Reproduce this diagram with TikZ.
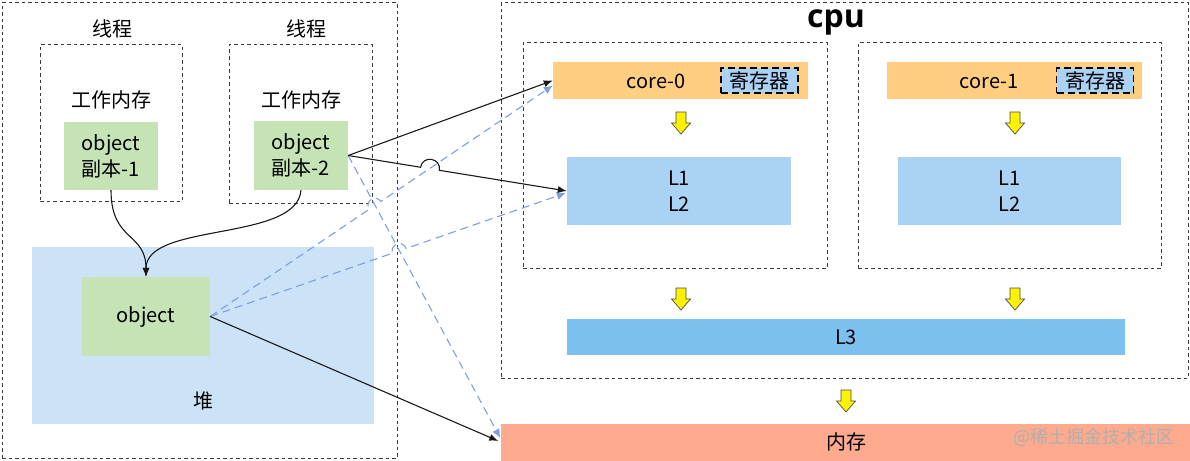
\documentclass[tikz,border=0pt]{standalone}
\usepackage{fontspec}
\setmainfont{Noto Sans CJK SC}
\newfontfamily\cpufont{Open Sans}
\usetikzlibrary{arrows.meta,calc}
\definecolor{gfill}{RGB}{197,227,181}
\definecolor{heapfill}{RGB}{204,226,247}
\definecolor{corefill}{RGB}{255,206,128}
\definecolor{lfill}{RGB}{170,210,245}
\definecolor{l3fill}{RGB}{123,192,238}
\definecolor{memfill}{RGB}{253,170,142}
\definecolor{blueline}{RGB}{126,160,222}
\definecolor{dashgray}{RGB}{60,60,60}
\definecolor{wmgray}{RGB}{175,175,175}
\tikzset{
  yarrow/.pic={\draw[fill=yellow, draw=black!70, line width=0.7pt, line join=miter]
    (-5,0) -- (5,0) -- (5,11) -- (9.5,11) -- (0,22) -- (-9.5,11) -- (-5,11) -- cycle;},
}
\begin{document}
\begin{tikzpicture}[x=1pt,y=-1pt,
  every node/.style={font=\fontsize{20}{26}\selectfont, inner sep=0pt, align=center},
  dbox/.style={draw=dashgray, dash pattern=on 3.5pt off 3pt, line width=1pt},
  blk/.style={draw=black!90, line width=1.1pt, -{Latex[length=9pt,width=7pt]}},
  blu/.style={draw=blueline, line width=1.1pt, dash pattern=on 8pt off 5pt, -{Latex[length=9pt,width=8pt]}},
  reg/.style={fill=lfill, draw=black, line width=1.4pt, dash pattern=on 7pt off 4pt, minimum width=77pt, minimum height=25pt},
]
\useasboundingbox (0,0) rectangle (1190,460);

% ---------- left: threads and heap ----------
\node[dbox, minimum width=395pt, minimum height=455pt] (left) at (199.5,230.5) {};
\node[dbox, minimum width=142pt, minimum height=156pt] (t1box) at (111,123) {};
\node[dbox, minimum width=143pt, minimum height=158pt] (t2box) at (300.5,124) {};
\node (t1lab) at (112,29) {线程};
\node (t2lab) at (306,29) {线程};
\node (w1lab) at (111,100) {工作内存};
\node (w2lab) at (301,100) {工作内存};
\node[fill=gfill, minimum width=94pt, minimum height=68pt] (c1) at (111,156) {object\\副本-1};
\node[fill=gfill, minimum width=94pt, minimum height=69pt] (c2) at (301,155.5) {object\\副本-2};
\node[fill=heapfill, minimum width=342pt, minimum height=177pt] (heap) at (203,335.5) {};
\node (heaplab) at (203,401) {堆};
\node[fill=gfill, minimum width=128pt, minimum height=79pt] (obj) at (146,316.5) {object};

% ---------- right: cpu ----------
\node[dbox, minimum width=687pt, minimum height=375pt] (cpu) at (844.5,190.5) {};
\node (cpulab) at (836,22) {\fontsize{32}{34}\selectfont\cpufont\bfseries cpu};
\node[dbox, minimum width=304pt, minimum height=225pt] (k0box) at (675,155.5) {};
\node[dbox, minimum width=303pt, minimum height=225pt] (k1box) at (1009.5,155.5) {};

\node[fill=corefill, minimum width=255pt, minimum height=37pt] (cb0) at (680.5,80.5) {};
\node (cb0t) at (656,81) {core-0};
\node[reg] (reg0) at (759.5,80.5) {寄存器};
\node[fill=corefill, minimum width=255pt, minimum height=37pt] (cb1) at (1014.5,80.5) {};
\node (cb1t) at (989,81) {core-1};
\node[reg] (reg1) at (1095,80.5) {寄存器};

\node[fill=lfill, minimum width=224pt, minimum height=68pt] (l12a) at (679,191) {L1\\L2};
\node[fill=lfill, minimum width=223pt, minimum height=68pt] (l12b) at (1009.5,191) {L1\\L2};
\node[fill=l3fill, minimum width=558pt, minimum height=36pt] (l3) at (846,337) {L3};
\node[fill=memfill, minimum width=692pt, minimum height=38pt] (mem) at (846.5,443) {};
\node (memt) at (846,442) {内存};
\node[text=wmgray, font=\fontsize{18}{20}\selectfont] (wm) at (1094,437) {@稀土掘金技术社区};

\pic at (681,112) {yarrow};
\pic at (1015,112) {yarrow};
\pic at (681,288) {yarrow};
\pic at (1015,288) {yarrow};
\pic at (846,390) {yarrow};

% ---------- connectors ----------
\coordinate (tcore) at ($(cb0.west)+(0,5)$);
\coordinate (tl12) at ($(l12a.west)+(-1,2)$);
\coordinate (tmemb) at ($(mem.west)+(0,-5)$);
\coordinate (tmemk) at ($(mem.west)+(-2,-2)$);

\draw[blk] (c1.south) .. controls (111,242) and (146,232) .. (obj.north);
\draw[blk] (c2.south) .. controls (297,242) and (146,222) .. (obj.north);

\draw[blu] (obj.east) -- ($(obj.east)!0.464!(tcore)$) to[bend left=90, looseness=1.7] ($(obj.east)!0.498!(tcore)$) -- (tcore);
\draw[blu] (obj.east) -- ($(obj.east)!0.513!(tl12)$) to[bend left=90, looseness=1.7] ($(obj.east)!0.551!(tl12)$) -- (tl12);
\draw[blu] (c2.east) -- (tmemb);

\draw[blk] (c2.east) -- (cb0.west);
\draw[blk] (c2.east) -- ($(c2.east)!0.331!(l12a.west)$) to[bend left=90, looseness=1.7] ($(c2.east)!0.417!(l12a.west)$) -- (l12a.west);
\draw[blk] (obj.east) -- (tmemk);
\end{tikzpicture}
\end{document}
